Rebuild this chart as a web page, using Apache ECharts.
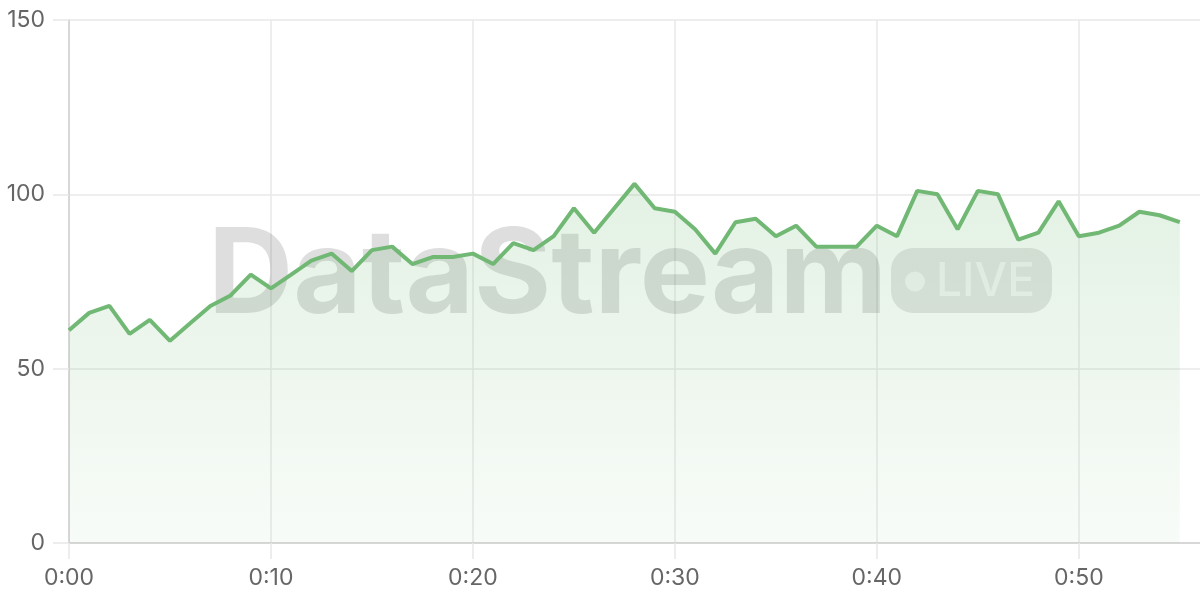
<!DOCTYPE html>
<html>
<head>
<meta charset="utf-8">
<script src="https://cdn.jsdelivr.net/npm/echarts@6/dist/echarts.min.js"></script>
<style>
html,body{margin:0;padding:0;background:#fff;}
#chart{width:1200px;height:600px;}
</style>
</head>
<body>
<div id="chart"></div>
<script>
// Minutes 0..56 (last slot empty), labels "0:MM"
const minuteLabels = ["0:00","0:01","0:02","0:03","0:04","0:05","0:06","0:07","0:08","0:09",
  "0:10","0:11","0:12","0:13","0:14","0:15","0:16","0:17","0:18","0:19",
  "0:20","0:21","0:22","0:23","0:24","0:25","0:26","0:27","0:28","0:29",
  "0:30","0:31","0:32","0:33","0:34","0:35","0:36","0:37","0:38","0:39",
  "0:40","0:41","0:42","0:43","0:44","0:45","0:46","0:47","0:48","0:49",
  "0:50","0:51","0:52","0:53","0:54","0:55","0:56"];
const streamValues = [61,66,68,60,64,58,63,68,71,77,
  73,77,81,83,78,84,85,80,82,82,
  83,80,86,84,88,96,89,96,103,96,
  95,90,83,92,93,88,91,85,85,85,
  91,88,101,100,90,101,100,87,89,98,
  88,89,91,95,94,92];
const yTicks = {min:0, max:150, interval:50};
const labelEvery = 10;
const lastLabelIndex = 50;
const watermarkText = "DataStream";
const badgeText = "LIVE";

const chart = echarts.init(document.getElementById('chart'));
const lineColor = '#70b874';
const gridColor = '#e8e8e8';
const labelFont = 'Inter';
const showIdx = (i) => i % labelEvery === 0 && i <= lastLabelIndex;

chart.setOption({
  animation:false,
  backgroundColor:'#ffffff',
  grid:{left:69, right:0, top:20, bottom:57},
  xAxis:{
    type:'category',
    data:minuteLabels,
    boundaryGap:false,
    axisLine:{show:true, lineStyle:{color:'#cfcfcf', width:1.5}},
    axisTick:{show:true, length:16, interval:showIdx, lineStyle:{color:gridColor, width:1.5}},
    axisLabel:{interval:showIdx, color:'#666', fontSize:23, fontFamily:labelFont, margin:24},
    splitLine:{show:true, interval:showIdx, lineStyle:{color:gridColor, width:1.5}}
  },
  yAxis:{
    type:'value',
    min:yTicks.min, max:yTicks.max, interval:yTicks.interval,
    axisLine:{show:true, lineStyle:{color:'#cfcfcf', width:1.5}},
    axisTick:{show:true, length:16, lineStyle:{color:gridColor, width:1.5}},
    axisLabel:{color:'#666', fontSize:23, fontFamily:labelFont, margin:24},
    splitLine:{show:true, lineStyle:{color:gridColor, width:1.5}}
  },
  graphic:[
    {type:'text', z:1, style:{text:watermarkText, x:208, y:278, align:'left', verticalAlign:'middle',
      font:'700 118px Inter', fill:'rgba(0,0,0,0.13)'}},
    {type:'rect', z:1, shape:{x:891, y:248, width:161, height:65, r:22}, style:{fill:'rgba(0,0,0,0.1)'}},
    {type:'circle', z:1, shape:{cx:915, cy:281.5, r:10}, style:{fill:'rgba(255,255,255,0.6)'}},
    {type:'text', z:1, style:{text:badgeText, x:936, y:282, align:'left', verticalAlign:'middle',
      font:'500 46px Inter', fill:'rgba(255,255,255,0.6)'}}
  ],
  series:[{
    type:'line',
    data:streamValues,
    symbol:'none',
    z:3,
    lineStyle:{color:lineColor, width:4},
    areaStyle:{color:new echarts.graphic.LinearGradient(0,0,0,1,[
      {offset:0, color:'rgba(112,184,116,0.28)'},
      {offset:1, color:'rgba(112,184,116,0.07)'}
    ])}
  }]
});
</script>
</body>
</html>
